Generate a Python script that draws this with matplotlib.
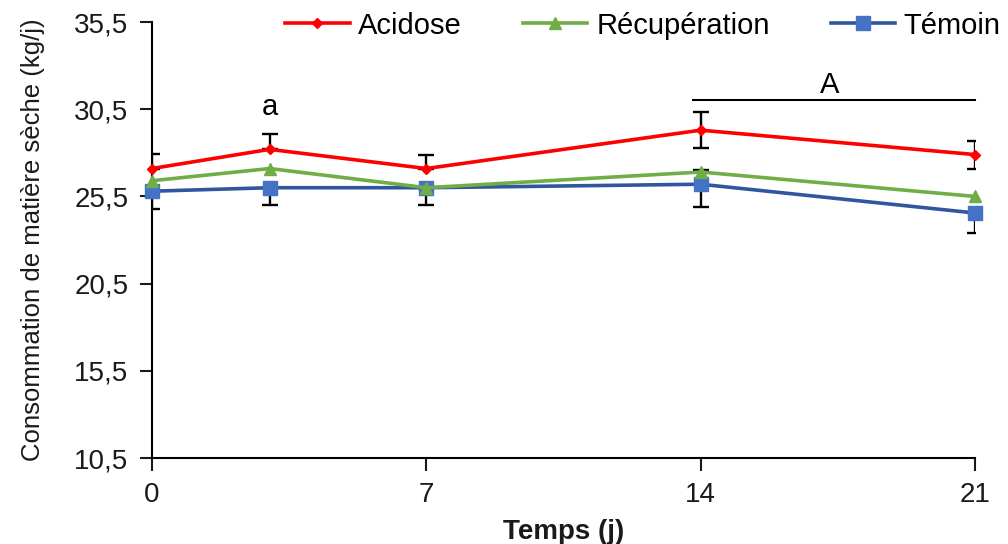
import numpy as np
import matplotlib.pyplot as plt
from matplotlib.ticker import FuncFormatter

plt.rcParams['font.family'] = ['Liberation Sans', 'DejaVu Sans']

jours = [0, 3, 7, 14, 21]
acidose = [27.1, 28.2, 27.1, 29.3, 27.9]
recuperation = [26.4, 27.1, 26.0, 26.9, 25.5]
temoin = [25.8, 26.0, 26.0, 26.2, 24.55]

# barres d'erreur (bas, haut)
acidose_err_bas = [0, 0, 0, 1.05, 0.85]
acidose_err_haut = [0.86, 0.86, 0.8, 1.05, 0.8]
temoin_err_bas = [1.03, 0.97, 1.0, 1.32, 1.15]
temoin_err_haut = [0, 0, 0, 0.8, 0]

fig = plt.figure(figsize=(10.08, 5.44), dpi=100)
ax = fig.add_axes([0.1508, 0.158, 0.8165, 0.8015])

ax.errorbar(jours, acidose, yerr=[acidose_err_bas, acidose_err_haut], fmt='none',
            ecolor='black', elinewidth=1.7, capsize=6, capthick=1.7, zorder=2)
ax.errorbar(jours, temoin, yerr=[temoin_err_bas, temoin_err_haut], fmt='none',
            ecolor='black', elinewidth=1.7, capsize=6, capthick=1.7, zorder=2)

ax.plot(jours, temoin, color='#2F569F', lw=2.6, marker='s', ms=10,
        mfc='#4472C4', mec='#4472C4', label='Témoin', clip_on=False, zorder=3)
ax.plot(jours, recuperation, color='#70AD47', lw=2.6, marker='^', ms=8,
        label='Récupération', clip_on=False, zorder=4)
ax.plot(jours, acidose, color='#FF0000', lw=2.6, marker='D', ms=5.5,
        label='Acidose', clip_on=False, zorder=5)

ax.set_xlim(0, 21)
ax.set_ylim(10.5, 35.5)
ax.set_xticks([0, 7, 14, 21])
ax.set_yticks(np.arange(10.5, 36, 5))
ax.yaxis.set_major_formatter(FuncFormatter(lambda v, p: f'{v:.1f}'.replace('.', ',')))
ax.tick_params(labelsize=20, length=9, width=1.5, colors='#1a1a1a', pad=8)
ax.spines['top'].set_visible(False)
ax.spines['right'].set_visible(False)
for s in ['left', 'bottom']:
    ax.spines[s].set_linewidth(1.5)

ax.set_xlabel('Temps (j)', fontsize=20, fontweight='bold', labelpad=8, color='#1a1a1a')
ax.set_ylabel('Consommation de matière sèche (kg/j)', fontsize=18.5, labelpad=21, color='#1a1a1a')

ax.text(3, 30.6, 'a', fontsize=21, ha='center', va='center')
ax.plot([13.8, 21], [31.05, 31.05], color='black', lw=1.5, clip_on=False)
ax.text(17.3, 31.9, 'A', fontsize=21, ha='center', va='center')

h, l = ax.get_legend_handles_labels()
fig.legend(h[::-1], l[::-1], loc='center', bbox_to_anchor=(0.638, 0.953), ncol=3,
           frameon=False, fontsize=21, handlelength=2.2, handletextpad=0.3,
           columnspacing=2.1, borderaxespad=0, borderpad=0)

fig.savefig('out.png', dpi=100)
